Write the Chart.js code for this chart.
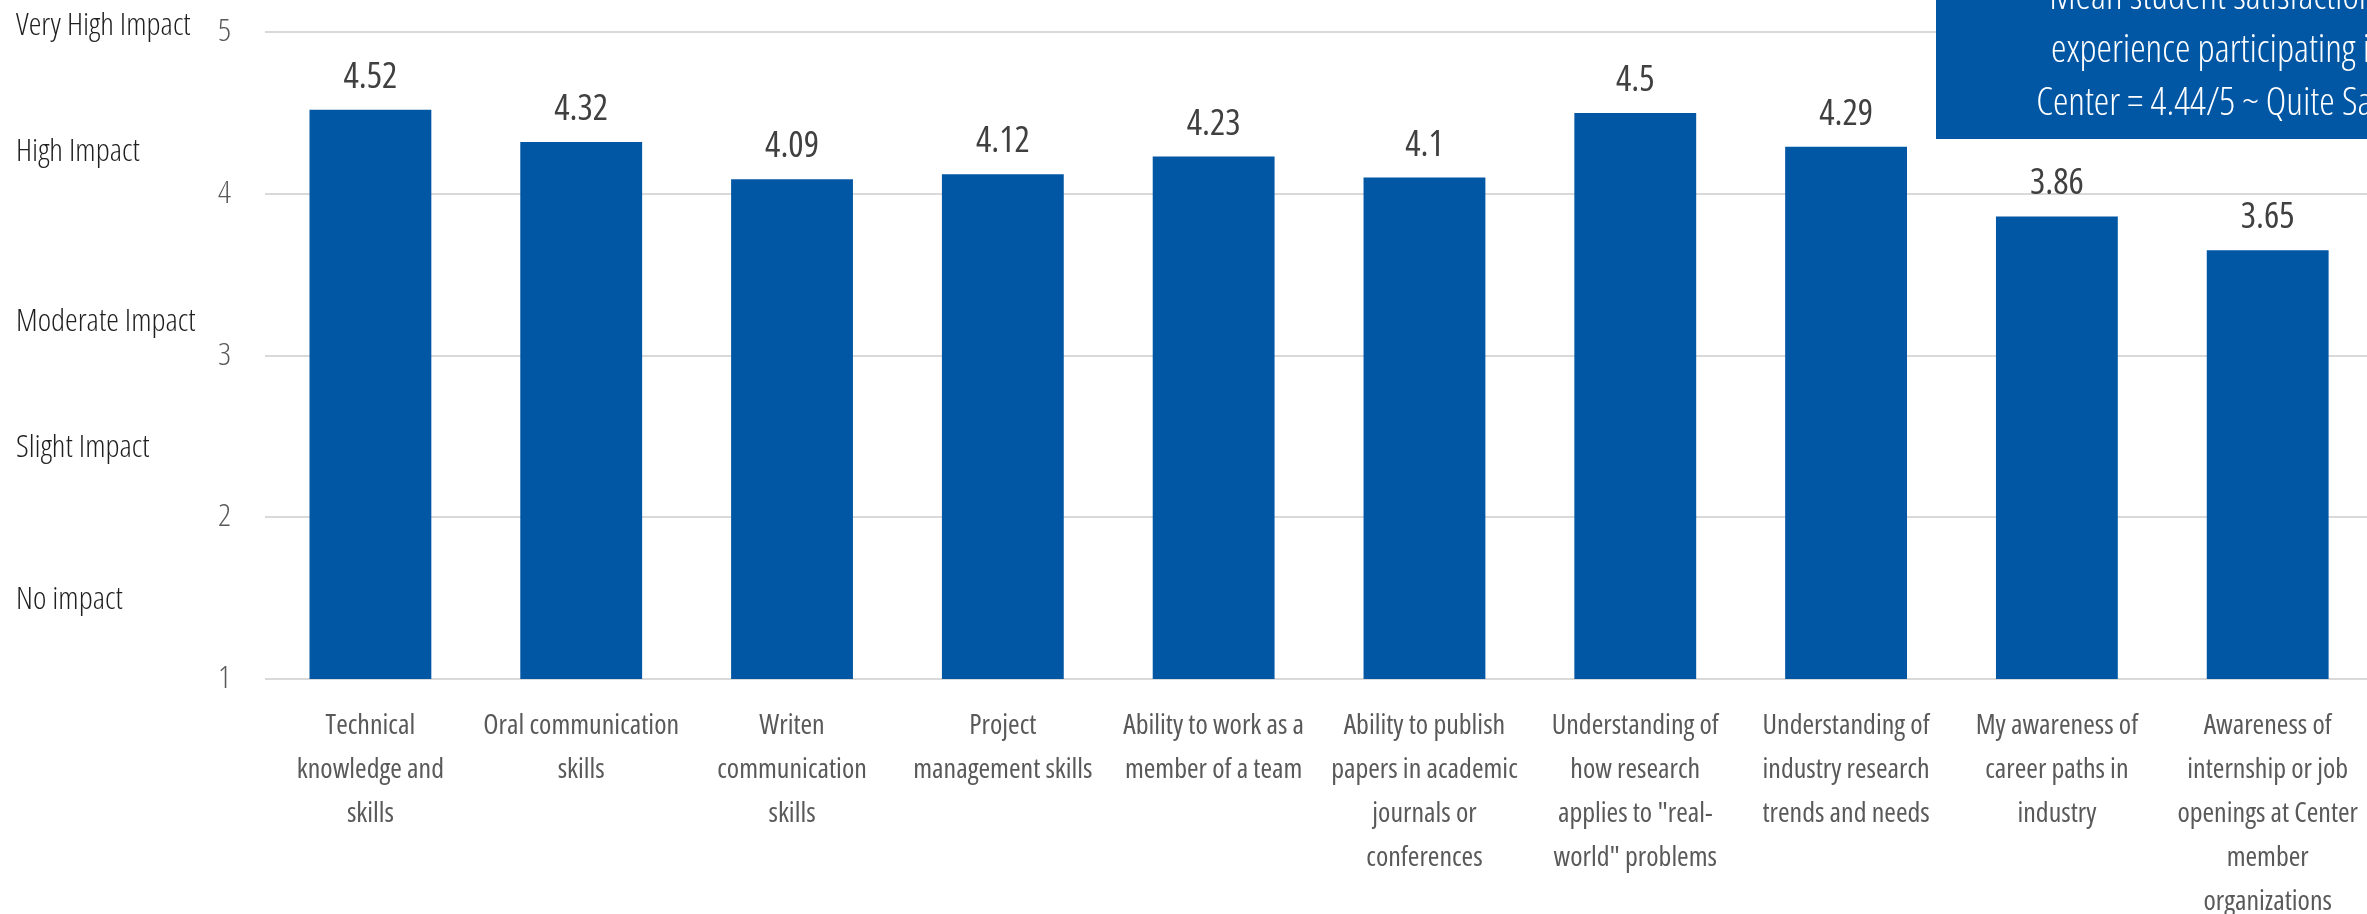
<!DOCTYPE html>
<html>
<head>
<meta charset="utf-8">
<script src="https://cdn.jsdelivr.net/npm/chart.js@4.4.1/dist/chart.umd.min.js"></script>
<style>
  html, body { margin: 0; padding: 0; background: #fff; overflow: hidden; }
  canvas { display: block; }
</style>
</head>
<body>
<canvas id="impactChart" width="2383" height="914"></canvas>
<script>
// survey items, wrapped the way they appear under the bars
const skillLabels = [
  ["Technical", "knowledge and", "skills"],
  ["Oral communication", "skills"],
  ["Writen", "communication", "skills"],
  ["Project", "management skills"],
  ["Ability to work as a", "member of a team"],
  ["Ability to publish", "papers in academic", "journals or", "conferences"],
  ["Understanding of", "how research", "applies to \"real-", "world\" problems"],
  ["Understanding of", "industry research", "trends and needs"],
  ["My awareness of", "career paths in", "industry"],
  ["Awareness of", "internship or job", "openings at Center", "member", "organizations"]
];

// mean rating per item (1 = no impact, 5 = very high impact)
const meanScores = [4.52, 4.32, 4.09, 4.12, 4.23, 4.1, 4.5, 4.29, 3.86, 3.65];

// rating scale
const scaleMin = 1;
const scaleMax = 5;
const impactLabels = ["Very High Impact", "High Impact", "Moderate Impact", "Slight Impact", "No impact"];

// callout text
const summaryLines = [
  "Mean student satisfaction with",
  "experience participating in the",
  "Center = 4.44/5 ~ Quite Satisfied"
];

const FAMILY = "'Open Sans', sans-serif";
const BAR_BLUE = "#0257a5";

// where the impact words sit along the rating axis
const impactAnchors = [5.04, 4.26, 3.21, 2.43, 1.49];

// numbers printed above each bar
const valueLabels = {
  id: "valueLabels",
  afterDatasetsDraw(chart) {
    const ctx = chart.ctx;
    const meta = chart.getDatasetMeta(0);
    ctx.save();
    ctx.font = "normal 400 condensed 36px " + FAMILY;
    ctx.fillStyle = "#404040";
    ctx.textAlign = "center";
    ctx.textBaseline = "alphabetic";
    meta.data.forEach((bar, i) => {
      ctx.fillText(String(meanScores[i]), bar.x, bar.y - 22);
    });
    ctx.restore();
  }
};

// blue summary box in the top right corner
const summaryBox = {
  id: "summaryBox",
  afterDraw(chart) {
    const ctx = chart.ctx;
    ctx.save();
    ctx.fillStyle = BAR_BLUE;
    ctx.fillRect(1936, 0, chart.width - 1936, 139);
    ctx.fillStyle = "#ffffff";
    ctx.font = "normal 300 condensed 39px " + FAMILY;
    ctx.textAlign = "center";
    ctx.textBaseline = "alphabetic";
    summaryLines.forEach((line, i) => {
      ctx.fillText(line, 2243, 9 + i * 53);
    });
    ctx.restore();
  }
};

new Chart(document.getElementById("impactChart"), {
  type: "bar",
  data: {
    labels: skillLabels,
    datasets: [{
      data: meanScores,
      backgroundColor: BAR_BLUE,
      barPercentage: 0.578,
      categoryPercentage: 1
    }]
  },
  options: {
    responsive: false,
    animation: false,
    layout: { padding: { left: 16, top: 32, right: 0, bottom: 0 } },
    plugins: {
      legend: { display: false },
      tooltip: { enabled: false }
    },
    scales: {
      x: {
        grid: { display: false, drawTicks: false },
        border: { display: false },
        ticks: {
          autoSkip: false,
          maxRotation: 0,
          minRotation: 0,
          padding: 25,
          color: "#595959",
          font: { family: FAMILY, size: 28, style: "normal", weight: "400 condensed", lineHeight: 44 / 28 }
        },
        afterFit(scale) { scale.height = 235; }
      },
      y: {
        position: "left",
        weight: 0,
        min: scaleMin,
        max: scaleMax,
        // invisible tick marks keep the numbers clear of the plot
        grid: { color: "#d9d9d9", lineWidth: 2, drawTicks: true, tickLength: 34, tickColor: "rgba(0,0,0,0)" },
        border: { display: false },
        ticks: {
          stepSize: 1,
          padding: 0,
          color: "#595959",
          font: { family: FAMILY, size: 32, style: "normal", weight: "300 condensed" }
        },
        afterFit(scale) { scale.width = 49; }
      },
      impact: {
        position: "left",
        weight: 1,
        min: scaleMin,
        max: scaleMax,
        grid: { display: false, drawTicks: false },
        border: { display: false },
        afterBuildTicks(scale) {
          scale.ticks = impactAnchors.map(v => ({ value: v }));
        },
        ticks: {
          autoSkip: false,
          crossAlign: "far",
          padding: 0,
          color: "#1f1f1f",
          font: { family: FAMILY, size: 32, style: "normal", weight: "300 condensed" },
          callback: (value, index) => impactLabels[index]
        },
        afterFit(scale) { scale.width = 200; }
      }
    }
  },
  plugins: [valueLabels, summaryBox]
});
</script>
</body>
</html>
